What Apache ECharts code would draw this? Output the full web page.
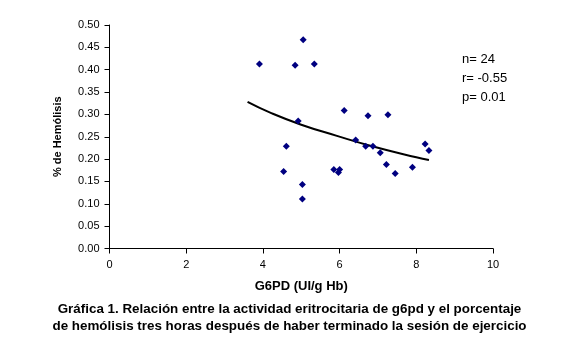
<!DOCTYPE html>
<html><head><meta charset="utf-8">
<script src="https://cdn.jsdelivr.net/npm/echarts@6/dist/echarts.min.js"></script>
<style>html,body{margin:0;padding:0;background:#fff}#c{width:579px;height:348px}</style>
</head><body><div id="c"></div>
<script>
// Scatter: G6PD activity (UI/g Hb) vs % hemolysis
const g6pd = [3.91, 5.05, 4.84, 5.34, 6.12, 6.74, 7.26, 4.92, 6.42, 4.61, 6.68, 6.87,
              7.06, 7.22, 7.45, 7.90, 8.23, 8.33, 4.54, 5.03, 5.03, 5.85, 6.00, 5.97];
const hemolisis = [0.413, 0.467, 0.410, 0.413, 0.309, 0.297, 0.299, 0.285, 0.243, 0.229, 0.229, 0.229,
                   0.214, 0.188, 0.168, 0.182, 0.234, 0.219, 0.172, 0.143, 0.111, 0.177, 0.177, 0.170];
// Trend line points
const trendX = [3.60, 4.19, 5.00, 5.93, 6.80, 8.00, 8.33];
const trendY = [0.328, 0.304, 0.277, 0.252, 0.230, 0.204, 0.198];
const xTicks = [0, 2, 4, 6, 8, 10];
const yTicks = [0.00, 0.05, 0.10, 0.15, 0.20, 0.25, 0.30, 0.35, 0.40, 0.45, 0.50];
const stats = ["n= 24", "r= -0.55", "p= 0.01"];
const caption = ["Gráfica 1. Relación entre la actividad eritrocitaria de g6pd y el porcentaje",
                 "de hemólisis tres horas después de haber terminado la sesión de ejercicio"];

const chart = echarts.init(document.getElementById('c'), null, {renderer: 'canvas'});
const font = '"Liberation Sans", Arial, sans-serif';
chart.setOption({
  animation: false,
  backgroundColor: '#ffffff',
  textStyle: {fontFamily: font},
  grid: {left: 109.5, right: 86, top: 25, bottom: 99.5, containLabel: false},
  xAxis: {
    type: 'value', min: xTicks[0], max: xTicks[xTicks.length - 1], interval: 2,
    splitLine: {show: false},
    axisLine: {lineStyle: {color: '#000', width: 1}},
    axisTick: {length: 5, lineStyle: {color: '#000'}},
    axisLabel: {color: '#000', fontSize: 11, fontFamily: font, margin: 11},
    name: 'G6PD (UI/g Hb)', nameLocation: 'middle', nameGap: 31,
    nameTextStyle: {color: '#000', fontSize: 13, fontWeight: 'bold', fontFamily: font}
  },
  yAxis: {
    type: 'value', min: yTicks[0], max: yTicks[yTicks.length - 1], interval: 0.05,
    splitLine: {show: false},
    axisLine: {show: true, lineStyle: {color: '#000', width: 1}},
    axisTick: {show: true, length: 5, lineStyle: {color: '#000'}},
    axisLabel: {color: '#000', fontSize: 11, fontFamily: font, margin: 10,
      formatter: v => v.toFixed(2)},
    name: '% de Hemólisis', nameLocation: 'middle', nameGap: 46, nameRotate: 90,
    nameTextStyle: {color: '#000', fontSize: 11, fontWeight: 'bold', fontFamily: font}
  },
  series: [
    {
      type: 'line', data: trendX.map((x, i) => [x, trendY[i]]),
      smooth: true, showSymbol: false, symbol: 'none',
      lineStyle: {color: '#000', width: 2}, z: 2
    },
    {
      type: 'scatter', data: g6pd.map((x, i) => [x, hemolisis[i]]),
      symbol: 'diamond', symbolSize: 7,
      itemStyle: {color: '#000080', opacity: 1}, z: 3
    }
  ],
  graphic: [
    ...stats.map((t, i) => ({
      type: 'text', left: 462, top: 53 + i * 19,
      style: {text: t, fill: '#000', font: '13px ' + font}
    })),
    ...caption.map((t, i) => ({
      type: 'text', left: 'center', top: 303 + i * 17,
      style: {text: t, fill: '#000', font: 'bold 13.4px ' + font}
    }))
  ]
});
</script></body></html>
